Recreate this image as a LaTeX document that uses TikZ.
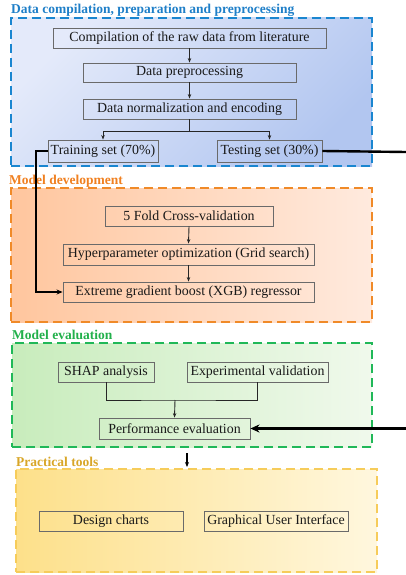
\documentclass[tikz,border=0pt]{standalone}
\usepackage{fontspec}
\setmainfont{Liberation Serif}
\usetikzlibrary{arrows.meta}
\definecolor{bluedash}{HTML}{1A86D0}
\definecolor{orangedash}{HTML}{F08A28}
\definecolor{greendash}{HTML}{20B858}
\definecolor{yellowdash}{HTML}{F6CC5A}
\definecolor{bluetitle}{HTML}{1F7FC8}
\definecolor{orangetitle}{HTML}{F08020}
\definecolor{greentitle}{HTML}{22B04B}
\definecolor{yellowtitle}{HTML}{D8A628}
\definecolor{boxline}{HTML}{6A6A6A}
\begin{document}
\begin{tikzpicture}[x=1pt,y=-1pt,
  group/.style={draw, dash pattern=on 9pt off 5pt, line width=2pt, inner sep=0pt},
  stepbox/.style={draw=boxline, line width=0.9pt, inner sep=0pt, minimum height=20pt,
    font=\fontsize{13.9}{16}\selectfont, text=black!90},
  gtitle/.style={anchor=west, inner sep=0pt, font=\fontsize{13.5}{16}\selectfont\bfseries},
  conn/.style={line width=0.9pt, black!85},
  arr/.style={conn, -{Stealth[length=4.5pt,width=3.5pt]}},
  bigarr/.style={line width=2.4pt, black, -{Stealth[length=9pt,width=8pt]}}
]
\useasboundingbox (0,0) rectangle (406,575);

% groups
\node[group, draw=bluedash, top color={rgb,255:red,228;green,234;blue,250}, bottom color={rgb,255:red,178;green,198;blue,240}, shading angle=45,
  minimum width=361pt, minimum height=148pt] (G1) at (191.5,92) {};
\node[group, draw=orangedash, left color={rgb,255:red,255;green,198;blue,158}, right color={rgb,255:red,255;green,234;blue,222},
  minimum width=361pt, minimum height=134pt] (G2) at (191.5,255) {};
\node[group, draw=greendash, left color={rgb,255:red,200;green,236;blue,188}, right color={rgb,255:red,240;green,249;blue,236},
  minimum width=360pt, minimum height=104pt] (G3) at (192,395) {};
\node[group, draw=yellowdash, left color={rgb,255:red,253;green,224;blue,138}, right color={rgb,255:red,255;green,247;blue,222},
  minimum width=361pt, minimum height=103pt] (G4) at (196.5,520.5) {};

% titles
\node[gtitle, text=bluetitle] (T1) at (11,10) {Data compilation, preparation and preprocessing};
\node[gtitle, text=orangetitle] (T2) at (9,181) {Model development};
\node[gtitle, text=greentitle] (T3) at (12,335) {Model evaluation};
\node[gtitle, text=yellowtitle] (T4) at (16,462) {Practical tools};

% group 1
\node[stepbox, minimum width=273pt] (raw) at (189.5,38) {Compilation of the raw data from literature};
\node[stepbox, minimum width=213pt, minimum height=19pt] (pre) at (189.5,72.5) {Data preprocessing};
\node[stepbox, minimum width=213pt] (norm) at (189.5,109) {Data normalization and encoding};
\node[stepbox, minimum width=110pt, minimum height=22pt] (train) at (103,151) {Training set (70\%)};
\node[stepbox, minimum width=105pt, minimum height=22pt] (test) at (269.5,151) {Testing set (30\%)};

% group 2
\node[stepbox, minimum width=168pt] (cv) at (189,216) {5 Fold Cross-validation};
\node[stepbox, minimum width=251pt, minimum height=21pt] (hyp) at (188.5,254.5) {Hyperparameter optimization (Grid search)};
\node[stepbox, minimum width=251pt] (xgb) at (188.5,292) {Extreme gradient boost (XGB) regressor};

% group 3
\node[stepbox, minimum width=96pt] (shap) at (106,372) {SHAP analysis};
\node[stepbox, minimum width=141pt] (exp) at (257.5,372) {Experimental validation};
\node[stepbox, minimum width=151pt, minimum height=21pt] (perf) at (174.5,428.5) {Performance evaluation};

% group 4
\node[stepbox, minimum width=144pt] (chart) at (111,521) {Design charts};
\node[stepbox, minimum width=144pt] (gui) at (276,521) {Graphical User Interface};

% connectors
\draw[arr] (raw.south) -- (pre.north);
\draw[arr] (pre.south) -- (norm.north);
\coordinate (split) at (189.5,131);
\draw[conn] (norm.south) -- (split);
\draw[arr] (split) -| (train.north);
\draw[arr] (split) -| (test.north);

\coordinate (trainturn) at (36,151);
\draw[line width=1.8pt, black, -{Stealth[length=6pt,width=5pt]}] (train.west) -- (trainturn) |- (xgb.west);
\draw[arr] (cv.south) -- (hyp.north);
\draw[arr] (hyp.south) -- (xgb.north);

\coordinate (redge) at (406,152);
\draw[line width=2.4pt, black] (test.east) -- (redge);
\coordinate (pedge) at (406,428.5);
\draw[bigarr] (pedge) -- (perf.east);

\coordinate (join) at (175,400);
\draw[conn] (shap.south) |- (join) -| (exp.south);
\draw[arr] (join) -- (perf.north);

\coordinate (g3out) at (187,453);
\coordinate (g4in) at (187,467);
\draw[line width=1.1pt, black, -{Stealth[length=5pt,width=4pt]}] (g3out) -- (g4in);
\end{tikzpicture}
\end{document}
